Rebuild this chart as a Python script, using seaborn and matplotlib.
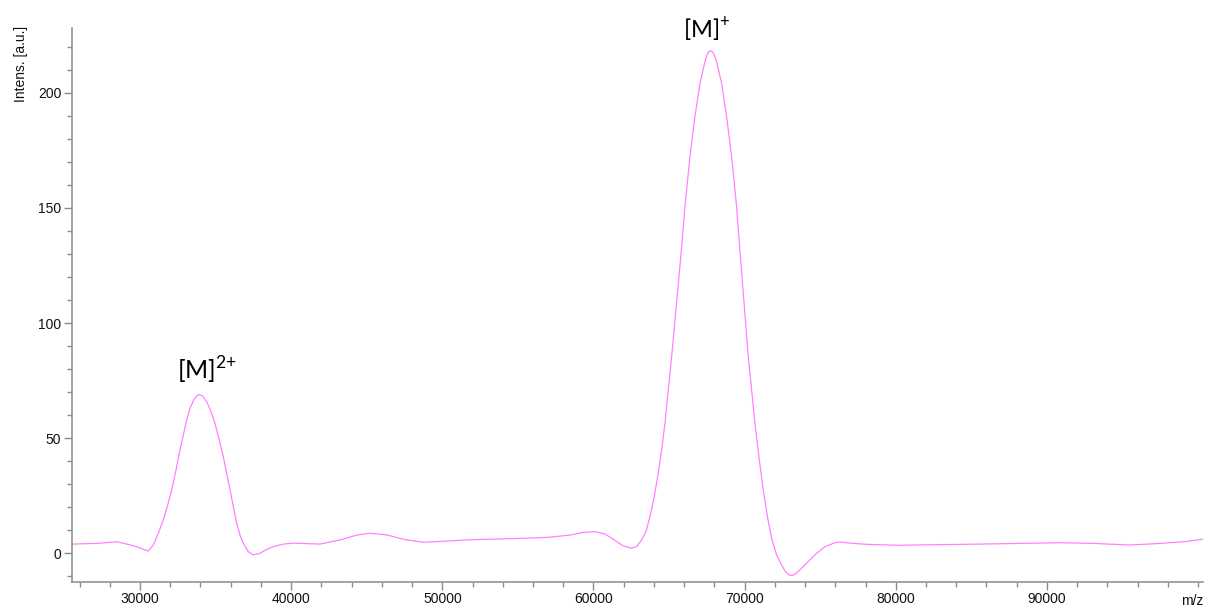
import pandas as pd
import matplotlib
matplotlib.use("Agg")
import matplotlib.pyplot as plt
from matplotlib.ticker import MultipleLocator, FixedLocator
import seaborn as sns

# Mass spectrum trace: m/z positions and intensities (a.u.)
mz = [
    25480, 27136, 28459, 29339, 30000, 30218, 30549, 30880, 31211, 31541,
    31832, 32097, 32381, 32646, 32864, 33089, 33308, 33572, 33857, 34148,
    34412, 34677, 34961, 35246, 35510, 35735, 36000, 36218, 36397, 36615,
    36833, 37164, 37495, 37938, 38381, 38818, 39479, 40141, 40584, 41907,
    43230, 44335, 45215, 46319, 47418, 48741, 50288, 51611, 52491, 54694,
    56903, 58445, 59325, 60098, 60760, 61309, 61971, 62526, 62856, 63187,
    63472, 63737, 64021, 64286, 64511, 64730, 64948, 65173, 65589, 65834,
    66052, 66383, 66713, 67044, 67223, 67375, 67527, 67640, 67752, 67860,
    67970, 68149, 68301, 68480, 68810, 69141, 69472, 69671, 69889, 70240,
    70465, 70683, 70948, 71232, 71563, 71807, 72118, 72449, 72700, 72952,
    73140, 73329, 73660, 74209, 74765, 75314, 75976, 76307, 77187, 78073,
    80056, 85566, 90858, 93061, 95489, 97473, 99014, 100337,
]
intensity = [
    4.0, 4.3, 5.0, 3.7, 2.4, 1.7, 1.0, 3.6, 8.7, 14.5,
    21.0, 27.5, 36.2, 44.9, 51.4, 57.9, 63.0, 66.9, 69.0, 68.3,
    65.8, 61.9, 56.4, 49.2, 41.9, 34.7, 26.1, 18.8, 13.0, 7.9,
    4.3, 0.7, -0.7, 0.0, 1.7, 2.9, 4.0, 4.4, 4.3, 4.0,
    5.8, 7.9, 8.7, 8.0, 6.1, 4.8, 5.3, 5.8, 6.0, 6.4,
    6.9, 7.9, 9.1, 9.4, 8.4, 6.1, 3.2, 2.2, 2.9, 5.8,
    9.4, 15.9, 24.6, 34.7, 44.9, 56.4, 70.9, 85.4, 115.0, 133.1,
    150.5, 172.2, 189.6, 204.1, 209.1, 213.5, 216.8, 217.9, 218.2, 217.9,
    216.8, 213.5, 209.1, 204.1, 189.6, 172.2, 150.5, 133.1, 115.0, 85.4,
    70.9, 56.4, 41.9, 27.5, 14.0, 6.0, -0.7, -5.1, -8.0, -9.4,
    -9.6, -9.1, -7.2, -3.6, 0.0, 2.9, 4.6, 4.9, 4.3, 3.9,
    3.5, 4.0, 4.6, 4.3, 3.6, 4.3, 5.0, 6.1,
]

# Axis tick values
x_tick_values = [30000, 40000, 50000, 60000, 70000, 80000, 90000]
y_tick_values = [0, 50, 100, 150, 200]

# Peak annotations: label text, m/z and intensity of the label centre
peak_labels = [r"[M]$^{\mathregular{2{+}}}$", r"[M]$^{\mathregular{+}}$"]
peak_mz = [34465, 67475]
peak_y = [79.6, 227.3]

df = pd.DataFrame({"mz": mz, "intensity": intensity})

sns.set_style("ticks")
plt.rcParams["font.family"] = ["Liberation Sans", "DejaVu Sans"]

fig = plt.figure(figsize=(12.05, 6.10), dpi=100)
ax = fig.add_axes([0.0595, 0.0465, 0.9385, 0.9075])

sns.lineplot(data=df, x="mz", y="intensity", ax=ax, color="#ff80ff",
             linewidth=0.9, sort=False, estimator=None)

ax.set_xlim(25480, 100300)
ax.set_ylim(-12.3, 228.1)

ax.xaxis.set_major_locator(FixedLocator(x_tick_values))
ax.xaxis.set_minor_locator(MultipleLocator(2000))
ax.yaxis.set_major_locator(FixedLocator(y_tick_values))
ax.yaxis.set_minor_locator(MultipleLocator(10))

spine_color = "#8c8c8c"
for side in ("top", "right"):
    ax.spines[side].set_visible(False)
for side in ("left", "bottom"):
    ax.spines[side].set_color(spine_color)
    ax.spines[side].set_linewidth(1.1)

ax.tick_params(which="major", length=5.5, width=1.0, color=spine_color,
               labelsize=10, labelcolor="#111111", pad=2)
ax.tick_params(which="minor", length=3.5, width=1.0, color=spine_color)

ax.set_xlabel("")
ax.set_ylabel("")

fig.text(21 / 1205, 1 - 26 / 610, "Intens. [a.u.]", rotation=90,
         ha="center", va="top", fontsize=10, color="#111111")
fig.text(0.999, 0.004, "m/z", ha="right", va="bottom", fontsize=10,
         color="#111111")

for text, x, y, size in zip(peak_labels, peak_mz, peak_y, (18, 17)):
    ax.text(x, y, text, ha="center", va="center", fontsize=size,
            family=["Lato", "DejaVu Sans"], color="black")

fig.savefig("out.png", dpi=100)
